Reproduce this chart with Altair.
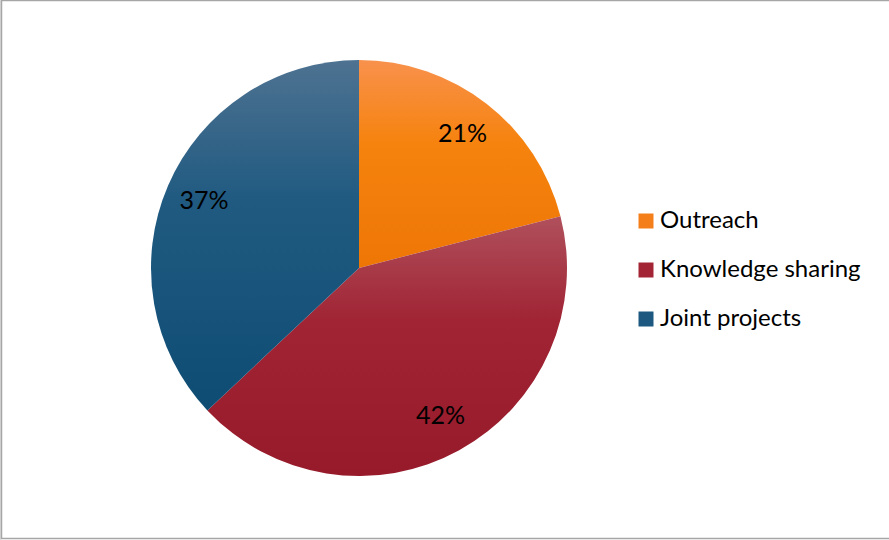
import altair as alt
import pandas as pd
from math import pi

categories = ["Outreach", "Knowledge sharing", "Joint projects"]
values = [21, 42, 37]
labels = ["21%", "42%", "37%"]
order = [1, 2, 3]
flat_colors = ["#F47F1A", "#A32535", "#1D5880"]
grad_top = ["#F8914C", "#B0505C", "#4E7291"]
grad_mid = ["#F6830E", "#A02434", "#205A81"]
grad_bottom = ["#EE7605", "#961A2A", "#0E4C73"]

df = pd.DataFrame({"category": categories, "value": values, "label": labels, "order": order})

CX, CY, R = 359, 268, 208

base = alt.Chart(df).transform_window(
    cum="sum(value)", sort=[alt.SortField("order")], frame=[None, 0]
).transform_calculate(
    start="datum.cum - datum.value",
    mid="datum.cum - datum.value / 2",
)

theta_scale = alt.Scale(domain=[0, 100], range=[0, 2 * pi])

border = alt.Chart(df).mark_rect(
    fill="transparent", stroke="#A6A6A6", strokeWidth=1.5
).encode(
    x=alt.value(1.5), x2=alt.value(900), y=alt.value(0.5), y2=alt.value(538.5)
).transform_filter(alt.datum.order == 1)

layers = [border]
for i, cat in enumerate(categories):
    grad = alt.LinearGradient(
        gradient="linear",
        x1=0, y1=0, x2=0, y2=1,
        stops=[
            alt.GradientStop(color=grad_top[i], offset=0),
            alt.GradientStop(color=grad_mid[i], offset=0.4),
            alt.GradientStop(color=grad_bottom[i], offset=1),
        ],
    )
    arc = base.transform_filter(alt.datum.category == cat).mark_arc(
        radius=R, fill=grad, strokeWidth=0
    ).encode(
        theta=alt.Theta("start:Q", scale=theta_scale),
        theta2="cum:Q",
        x=alt.value(CX),
        y=alt.value(CY),
    )
    layers.append(arc)

text = base.mark_text(
    radius=169, font="Lato", fontSize=25, color="black", align="center", baseline="middle"
).encode(
    theta=alt.Theta("mid:Q", scale=theta_scale, stack=False),
    text="label:N",
    x=alt.value(CX),
    y=alt.value(CY),
)
layers.append(text)

legend_layer = alt.Chart(df).mark_point(opacity=0, size=1, filled=True).encode(
    x=alt.value(CX),
    y=alt.value(CY),
    color=alt.Color(
        "category:N",
        scale=alt.Scale(domain=categories, range=flat_colors),
        sort=categories,
        legend=alt.Legend(
            title=None,
            orient="none",
            legendX=634,
            legendY=209,
            symbolType="square",
            symbolSize=225,
            symbolOpacity=1,
            symbolStrokeWidth=0,
            labelFont="Lato",
            labelFontSize=24,
            labelColor="black",
            labelOffset=2,
            labelLimit=0,
            rowPadding=25,
            padding=0,
        ),
    ),
)
layers.append(legend_layer)

chart = alt.layer(*layers).properties(
    width=889, height=540, padding=0, autosize=alt.AutoSizeParams(type="none")
).configure_view(stroke=None).configure(background="white")

chart.save("out.html", embed_options={"renderer": "svg", "actions": False})
